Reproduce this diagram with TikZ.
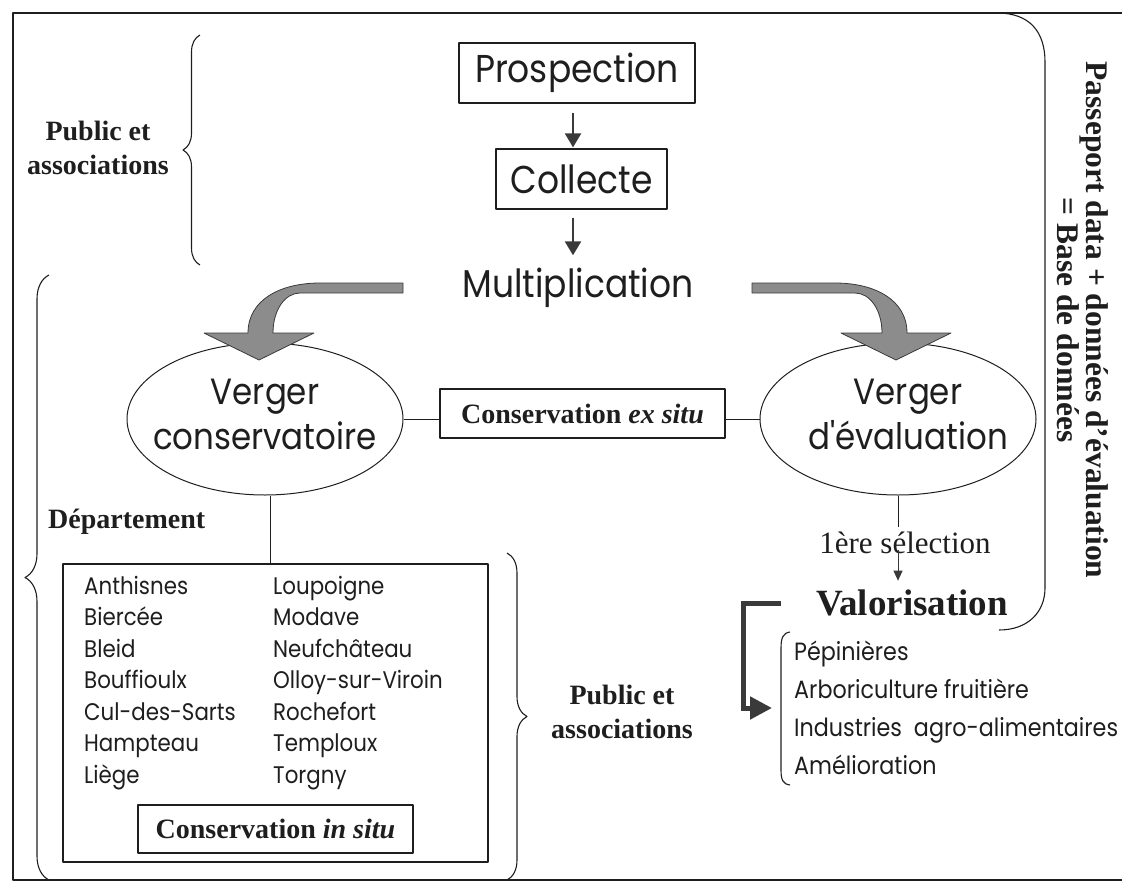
\documentclass[tikz,border=0pt]{standalone}
\usepackage{fontspec}
\setmainfont{Liberation Serif}
\newfontfamily\comic[FakeStretch=0.89]{Poppins}
\usetikzlibrary{arrows.meta,decorations.pathreplacing,shapes.geometric}
\definecolor{ink}{HTML}{1E1E1E}
\definecolor{arrgray}{HTML}{8C8C8C}
\definecolor{darkarr}{HTML}{3A3A3A}
\begin{document}
\begin{tikzpicture}[x=1pt,y=-1pt,line join=round,
  every node/.style={inner sep=0pt,text=ink},
  frame/.style={draw=ink,line width=1.6pt},
  sbox/.style={draw=ink,line width=1.3pt,rectangle},
  ell/.style={draw=ink,line width=1pt,ellipse},
  conn/.style={draw=ink,line width=1pt},
  brc/.style={draw=ink,line width=1.1pt,decorate},
  brk/.style={draw=ink,line width=1.1pt},
  thinarr/.style={draw=darkarr,line width=2.5pt,-{Triangle[length=14pt,width=16pt]}},
  smallarr/.style={draw=darkarr,line width=1pt,-{Triangle[length=10pt,width=9pt]}},
  larr/.style={draw=darkarr,line width=5pt,line join=miter,-{Triangle[length=22pt,width=22pt]}},
  blockarr/.style={fill=arrgray,draw=darkarr,line width=0.8pt},
  bigc/.style={font=\comic\fontsize{38.8}{45}\selectfont},
  ellc/.style={font=\comic\fontsize{36.5}{45}\selectfont},
  listc/.style={font=\comic\fontsize{24}{27}\selectfont},
  valc/.style={font=\comic\fontsize{25}{27}\selectfont},
  serifb/.style={font=\bfseries\fontsize{28}{34}\selectfont}]
\useasboundingbox (0,0) rectangle (1122,883);
% frame
\draw[frame] (1122,13) -- (13,13) -- (13,880) -- (1122,880);
% top part
\node[sbox,minimum width=236,minimum height=60,bigc] (pros) at (577,73) {Prospection};
\node[sbox,minimum width=171,minimum height=60,bigc] (coll) at (581.5,179) {Collecte};
\node[bigc,anchor=base] (multi) at (578,297) {Multiplication};
\coordinate (ax) at (573,0);
\draw[thinarr,shorten <=9pt,shorten >=1pt] (pros.south -| ax) -- (coll.north -| ax);
\draw[thinarr,shorten <=8pt,shorten >=12pt] (coll.south -| ax) -- (multi.north -| ax);
% upper brace
\draw[brc,decoration={brace,amplitude=17pt}] (200,265) -- (200,35);
\node[serifb,align=center] (pub1) at (98,148) {Public et\\associations};
% ellipses
\node[ell,minimum width=276,minimum height=152] (ellL) at (265,419) {};
\node[ellc,align=center] (ellLt) at (265,414) {Verger\\conservatoire};
\node[ell,minimum width=276,minimum height=152] (ellR) at (898,419) {};
\node[ellc,align=center] (ellRt) at (908,414) {Verger\\d'évaluation};
\node[sbox,minimum width=285,minimum height=49,serifb] (exs) at (582.5,413.5) {Conservation \textit{ex situ}};
\draw[conn] (ellL.east) -- (ellL.east -| exs.west);
\draw[conn] (exs.east |- ellR.west) -- (ellR.west);
% block arrows
\draw[blockarr] (403,283) -- (320,283) .. controls (280,283) and (248,300) .. (248,333) -- (204,333) -- (259,360) -- (314,333) -- (273,333) .. controls (273,310) and (285,293) .. (300,293) -- (403,293) -- cycle;
\draw[blockarr] (752,283) -- (835,283) .. controls (875,283) and (907,300) .. (907,333) -- (951,333) -- (896,360) -- (841,333) -- (882,333) .. controls (882,310) and (870,293) .. (855,293) -- (752,293) -- cycle;
% left lower part
\node[serifb,anchor=west] (dept) at (48,522) {Département};
\draw[brc,decoration={brace,amplitude=24pt}] (49,880) -- (49,275);
\node[sbox,minimum width=425,minimum height=298] (list) at (275.5,713) {};
\coordinate (lk) at (270,0);
\draw[conn] (ellL.south -| lk) -- (list.north -| lk);
\foreach \n [count=\i from 0] in {Anthisnes,Biercée,Bleid,Bouffioulx,Cul-des-Sarts,Hampteau,Liège}
  \node[listc,anchor=base west] (la\i) at (84,{594+31.5*\i}) {\n};
\foreach \n [count=\i from 0] in {Loupoigne,Modave,Neufchâteau,Olloy-sur-Viroin,Rochefort,Temploux,Torgny}
  \node[listc,anchor=base west] (lb\i) at (273,{594+31.5*\i}) {\n};
\node[sbox,minimum width=275,minimum height=48,serifb] (insitu) at (275.5,829) {Conservation \textit{in situ}};
\draw[brc,decoration={brace,amplitude=20pt}] (507,553) -- (507,880);
\node[serifb,align=center] (pub2) at (622,712) {Public et\\associations};
% right lower part
\node[font=\fontsize{31}{33}\selectfont] (sel) at (905,543) {1ère sélection};
\draw[conn,shorten >=5pt] (ellR.south) -- (ellR.south |- sel.north);
\node[font=\bfseries\fontsize{37}{40}\selectfont] (valo) at (912,603) {Valorisation};
\draw[smallarr,shorten <=-4pt,shorten >=9pt] (ellR.south |- sel.south) -- (ellR.south |- valo.north);
\draw[brk] (997,13) .. controls (1030,13) and (1045,32) .. (1045,62) -- (1045,588) .. controls (1045,612) and (1028,630) .. (999,630);
\node[rotate=-90,align=center,font=\bfseries\fontsize{31.5}{29}\selectfont] (pass) at (1083,320) {Passeport data + données d’évaluation\\= Base de données};
\draw[brk] (790,632) .. controls (783,633) and (781,638) .. (781,648) -- (781,770) .. controls (781,780) and (783,784) .. (790,785);
\foreach \n [count=\i from 0] in {Pépinières,Arboriculture fruitière,Industries\ \ agro-alimentaires,Amélioration}
  \node[valc,anchor=base west] (v\i) at (794,{660+38.3*\i}) {\n};
\coordinate (Ls) at (781,603);
\coordinate (Le) at (772,708);
\draw[larr] (Ls) -- (743,603) -- (743,708) -- (Le);
\end{tikzpicture}
\end{document}
